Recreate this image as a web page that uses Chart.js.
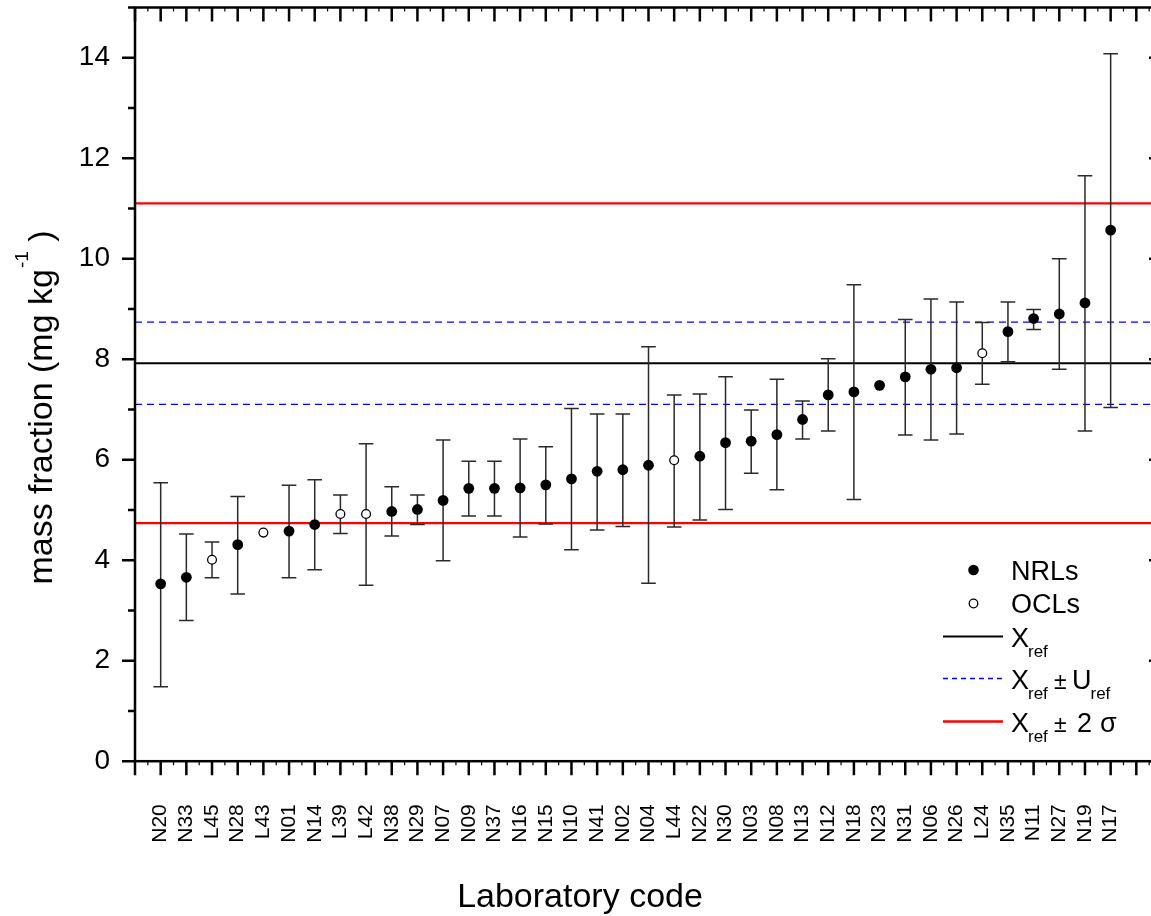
<!DOCTYPE html>
<html>
<head>
<meta charset="utf-8">
<script src="https://cdn.jsdelivr.net/npm/chart.js@4"></script>
<style>
  html, body { margin: 0; padding: 0; overflow: hidden; background: #fff; }
  canvas { display: block; }
</style>
</head>
<body>
<canvas id="labChart" width="1170" height="916"></canvas>
<script>
const FONT = "'Liberation Sans', Arial, Helvetica, sans-serif"

// laboratory codes, sorted by result
const labCodes = ['N20', 'N33', 'L45', 'N28', 'L43', 'N01', 'N14', 'L39', 'L42', 'N38',
  'N29', 'N07', 'N09', 'N37', 'N16', 'N15', 'N10', 'N41', 'N02', 'N04',
  'L44', 'N22', 'N30', 'N03', 'N08', 'N13', 'N12', 'N18', 'N23', 'N31',
  'N06', 'N26', 'L24', 'N35', 'N11', 'N27', 'N19', 'N17']

// reported mass fractions (mg/kg)
const results = [3.53, 3.66, 4.01, 4.31, 4.55, 4.58, 4.71, 4.92, 4.92, 4.97,
  5.01, 5.19, 5.43, 5.43, 5.44, 5.50, 5.62, 5.77, 5.80, 5.89,
  5.99, 6.07, 6.34, 6.37, 6.50, 6.80, 7.29, 7.35, 7.48, 7.65,
  7.80, 7.83, 8.12, 8.55, 8.81, 8.90, 9.12, 10.57]

// upper and lower ends of the uncertainty bars (null = no bar)
const barHigh = [5.54, 4.52, 4.36, 5.27, null, 5.49, 5.60, 5.30, 6.32, 5.46,
  5.30, 6.39, 5.97, 5.97, 6.41, 6.26, 7.02, 6.91, 6.91, 8.25,
  7.29, 7.31, 7.65, 6.99, 7.60, 7.17, 8.01, 9.48, null, 8.79,
  9.20, 9.14, 8.73, 9.14, 8.99, 10.00, 11.65, 14.08]
const barLow = [1.48, 2.80, 3.65, 3.33, null, 3.65, 3.81, 4.53, 3.50, 4.48,
  4.71, 3.99, 4.88, 4.88, 4.46, 4.72, 4.21, 4.60, 4.67, 3.54,
  4.66, 4.80, 5.01, 5.73, 5.40, 6.41, 6.57, 5.21, null, 6.49,
  6.39, 6.51, 7.50, 7.95, 8.59, 7.80, 6.57, 7.04]

// reference value, its expanded uncertainty and 2 sigma
const xRef = 7.92
const uRef = 0.82
const twoSigma = 3.18

const yTicks = [0, 2, 4, 6, 8, 10, 12, 14]

// N = national reference labs, L = official control labs
function points(prefix) {
  let out = []
  for (let i = 0; i < labCodes.length; i++) {
    if (labCodes[i][0] === prefix) out.push({ x: i + 1, y: results[i] })
  }
  return out
}

function hLine(value, color, width, dash) {
  return {
    type: 'scatter',
    data: [{ x: 0, y: value }, { x: labCodes.length + 2, y: value }],
    showLine: true,
    borderColor: color,
    borderWidth: width,
    borderDash: dash || [],
    pointRadius: 0,
    order: 2
  }
}

/* error bars, drawn after the lines and before the markers */
const errorBars = {
  id: 'errorBars',
  beforeDatasetDraw(chart, args) {
    if (args.index !== 0) return
    const ctx = chart.ctx
    const xs = chart.scales.x, ys = chart.scales.y
    ctx.save()
    ctx.strokeStyle = '#2a2a2a'
    ctx.lineWidth = 1.5
    for (let i = 0; i < labCodes.length; i++) {
      if (barHigh[i] == null) continue
      const x = xs.getPixelForValue(i + 1)
      const y1 = ys.getPixelForValue(barHigh[i])
      const y2 = ys.getPixelForValue(barLow[i])
      ctx.beginPath()
      ctx.moveTo(x, y1); ctx.lineTo(x, y2)
      ctx.moveTo(x - 7.3, y1); ctx.lineTo(x + 7.3, y1)
      ctx.moveTo(x - 7.3, y2); ctx.lineTo(x + 7.3, y2)
      ctx.stroke()
    }
    ctx.restore()
  }
}

/* frame with ticks on all four sides */
const frame = {
  id: 'frame',
  afterDatasetsDraw(chart) {
    const ctx = chart.ctx
    const a = chart.chartArea
    const xs = chart.scales.x, ys = chart.scales.y
    ctx.save()
    ctx.strokeStyle = '#000'
    ctx.lineWidth = 2.5
    ctx.strokeRect(a.left, a.top, a.right - a.left, a.bottom - a.top)

    ctx.beginPath()
    for (let i = 0; i <= xs.max; i++) {
      const x = xs.getPixelForValue(i)
      ctx.moveTo(x, a.bottom); ctx.lineTo(x, a.bottom + 14)
      ctx.moveTo(x, a.top); ctx.lineTo(x, a.top + 14)
    }
    for (let v = 0; v <= ys.max; v++) {
      const y = ys.getPixelForValue(v)
      const len = v % 2 === 0 ? 13 : 7
      ctx.moveTo(a.left - len, y); ctx.lineTo(a.left, y)
      ctx.moveTo(a.right - len, y); ctx.lineTo(a.right, y)
    }
    ctx.stroke()

    // small minor ticks on the category axes
    ctx.lineWidth = 1.2
    ctx.beginPath()
    for (let i = 0; i < xs.max; i++) {
      const x = xs.getPixelForValue(i + 0.5)
      ctx.moveTo(x, a.bottom); ctx.lineTo(x, a.bottom + 4)
      ctx.moveTo(x, a.top); ctx.lineTo(x, a.top + 4)
    }
    ctx.stroke()
    ctx.restore()
  }
}

/* axis titles and the legend box */
function withSub(ctx, x, y, main, sub) {
  ctx.font = '27px ' + FONT
  ctx.fillText(main, x, y)
  const w = ctx.measureText(main).width
  ctx.font = '17px ' + FONT
  ctx.fillText(sub, x + w - 1, y + 10)
}

const texts = {
  id: 'texts',
  afterDraw(chart) {
    const ctx = chart.ctx
    ctx.save()
    ctx.fillStyle = '#000'
    ctx.textBaseline = 'alphabetic'

    ctx.font = '34px ' + FONT
    ctx.textAlign = 'center'
    ctx.fillText('Laboratory code', 580, 907)

    // y title with superscript
    ctx.textAlign = 'left'
    ctx.save()
    ctx.translate(52, 408)
    ctx.rotate(-Math.PI / 2)
    const head = 'mass fraction (mg kg', sup = '-1', tail = ' )'
    ctx.font = '34px ' + FONT
    const wHead = ctx.measureText(head).width
    const wTail = ctx.measureText(tail).width
    ctx.font = '19px ' + FONT
    const wSup = ctx.measureText(sup).width
    let x0 = -(wHead + wSup + wTail) / 2
    ctx.font = '34px ' + FONT
    ctx.fillText(head, x0, 0)
    ctx.font = '19px ' + FONT
    ctx.fillText(sup, x0 + wHead + 1, -24)
    ctx.font = '34px ' + FONT
    ctx.fillText(tail, x0 + wHead + wSup + 1, 0)
    ctx.restore()

    // legend
    ctx.beginPath()
    ctx.arc(973.5, 570, 5.3, 0, Math.PI * 2)
    ctx.fill()
    ctx.beginPath()
    ctx.arc(973.5, 603.5, 4.3, 0, Math.PI * 2)
    ctx.fillStyle = '#fff'
    ctx.fill()
    ctx.lineWidth = 1.3
    ctx.strokeStyle = '#000'
    ctx.stroke()
    ctx.fillStyle = '#000'

    ctx.lineWidth = 2
    ctx.beginPath(); ctx.moveTo(943, 636.5); ctx.lineTo(1003, 636.5); ctx.stroke()
    ctx.strokeStyle = '#0000ff'
    ctx.lineWidth = 1.3
    ctx.setLineDash([5, 4])
    ctx.beginPath(); ctx.moveTo(943, 678.5); ctx.lineTo(1003, 678.5); ctx.stroke()
    ctx.setLineDash([])
    ctx.strokeStyle = '#ff0000'
    ctx.lineWidth = 2.5
    ctx.beginPath(); ctx.moveTo(943, 721.5); ctx.lineTo(1003, 721.5); ctx.stroke()

    ctx.font = '27px ' + FONT
    ctx.fillText('NRLs', 1011, 579.5)
    ctx.fillText('OCLs', 1011, 613)
    withSub(ctx, 1011, 647, 'X', 'ref')
    withSub(ctx, 1011, 688.5, 'X', 'ref')
    withSub(ctx, 1072, 688.5, 'U', 'ref')
    withSub(ctx, 1011, 732, 'X', 'ref')
    ctx.font = '23px ' + FONT
    ctx.fillText('±', 1054, 688.5)
    ctx.fillText('±', 1054, 732)
    ctx.font = '27px ' + FONT
    ctx.fillText('2', 1077, 732)
    ctx.fillText('σ', 1100, 732)
    ctx.restore()
  }
}

const config = {
  type: 'scatter',
  data: {
    datasets: [
      {
        label: 'NRLs',
        data: points('N'),
        pointRadius: 5.4,
        pointBackgroundColor: '#000',
        pointBorderColor: '#000',
        pointBorderWidth: 0,
        order: 1
      },
      {
        label: 'OCLs',
        data: points('L'),
        pointRadius: 4.4,
        pointBackgroundColor: '#fff',
        pointBorderColor: '#000',
        pointBorderWidth: 1.3,
        order: 0
      },
      hLine(xRef, '#000', 2),
      hLine(xRef + uRef, '#0000ff', 1.3, [7, 5]),
      hLine(xRef - uRef, '#0000ff', 1.3, [7, 5]),
      hLine(xRef + twoSigma, '#ff0000', 2.3),
      hLine(xRef - twoSigma, '#ff0000', 2.3)
    ]
  },
  options: {
    responsive: false,
    animation: false,
    events: [],
    layout: { padding: { top: 7.5, right: 8, left: 0, bottom: 0 } },
    plugins: {
      legend: { display: false },
      tooltip: { enabled: false },
      title: { display: false }
    },
    scales: {
      x: {
        type: 'linear',
        position: 'bottom',
        min: 0,
        max: labCodes.length + 2,
        grid: { display: false, drawTicks: false },
        border: { display: false },
        afterFit: (scale) => {
          scale.height = 154.8
          scale.paddingLeft = 0
          scale.paddingRight = 0
        },
        ticks: {
          stepSize: 1,
          autoSkip: false,
          minRotation: 90,
          maxRotation: 90,
          padding: 43,
          color: '#000',
          font: { size: 21, family: FONT },
          callback: (v) => (v >= 1 && v <= labCodes.length) ? labCodes[v - 1] : null
        }
      },
      y: {
        min: 0,
        max: 15,
        grid: { display: false, drawTicks: false },
        border: { display: false },
        afterFit: (scale) => {
          scale.width = 135
          scale.paddingTop = 0
          scale.paddingBottom = 0
        },
        ticks: {
          stepSize: 1,
          padding: 25,
          color: '#000',
          font: { size: 28, family: FONT },
          callback: (v) => yTicks.includes(v) ? String(v) : null
        }
      }
    }
  },
  plugins: [errorBars, frame, texts]
}

new Chart(document.getElementById('labChart').getContext('2d'), config)
</script>
</body>
</html>
